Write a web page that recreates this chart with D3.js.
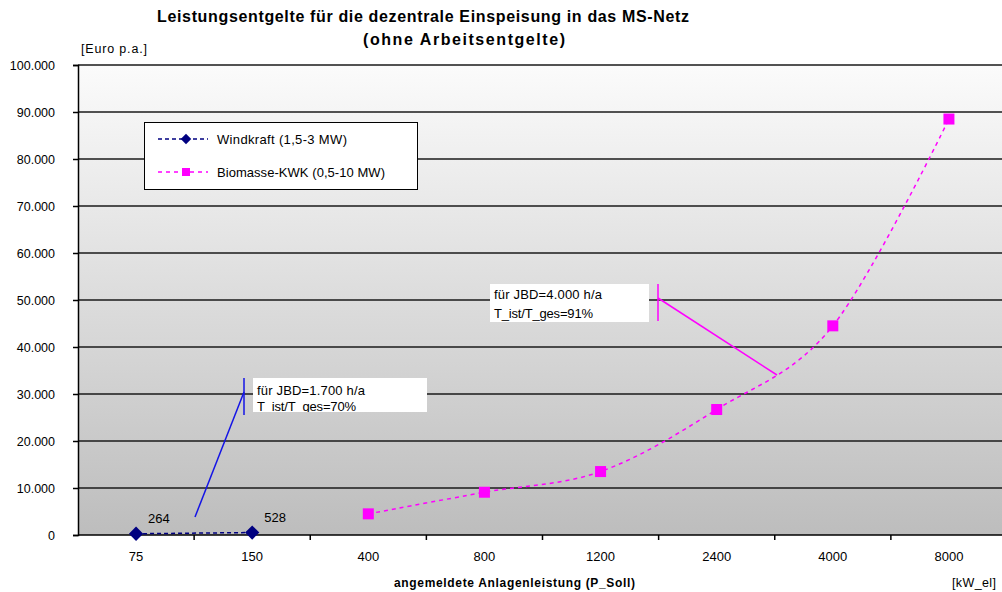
<!DOCTYPE html>
<html>
<head>
<meta charset="utf-8">
<script src="https://cdn.jsdelivr.net/npm/d3@7"></script>
<style>
  html, body { margin: 0; padding: 0; background: #fff; }
  svg { display: block; font-family: "Liberation Sans", Arial, sans-serif; }
</style>
</head>
<body>
<svg id="chart" width="1002" height="592"></svg>
<script>
// Capacity categories (kW_el) on the x axis
const categories = ["75", "150", "400", "800", "1200", "2400", "4000", "8000"];

// Wind power: annual capacity charge (Euro p.a.)
const windCats = ["75", "150"];
const windValues = [264, 528];

// Biomass CHP: annual capacity charge (Euro p.a.)
const bioCats = ["400", "800", "1200", "2400", "4000", "8000"];
const bioValues = [4500, 9100, 13500, 26700, 44500, 88500];

// Y-axis ticks
const yTicks = [0, 10000, 20000, 30000, 40000, 50000, 60000, 70000, 80000, 90000, 100000];

const svg = d3.select("#chart");
const plot = { left: 78, right: 1007, top: 65, bottom: 535 };

const x = d3.scaleBand().domain(categories).range([plot.left, plot.right]).padding(0);
const y = d3.scaleLinear().domain([0, 100000]).range([plot.bottom, plot.top]);
const fmt = v => d3.format(",")(v).replace(/,/g, ".");

// Text helper with an explicit run length
function label(g, o) {
  const t = g.append("text").attr("x", o.x).attr("y", o.y)
    .attr("font-size", o.size || 12).attr("fill", "#000")
    .attr("text-anchor", o.anchor || "start")
    .text(o.text);
  if (o.bold) t.attr("font-weight", "bold");
  if (o.len) t.attr("textLength", o.len).attr("lengthAdjust", "spacing");
  return t;
}

// Plot-area gradient background
const defs = svg.append("defs");
const grad = defs.append("linearGradient").attr("id", "bg").attr("x1", 0).attr("y1", 0).attr("x2", 0).attr("y2", 1);
grad.append("stop").attr("offset", "0%").attr("stop-color", "#fbfbfb");
grad.append("stop").attr("offset", "100%").attr("stop-color", "#bdbdbd");
svg.append("rect")
  .attr("x", plot.left).attr("y", plot.top)
  .attr("width", plot.right - plot.left).attr("height", plot.bottom - plot.top)
  .attr("fill", "url(#bg)");

// Horizontal gridlines
svg.append("g").selectAll("line").data(yTicks.filter(d => d > 0)).join("line")
  .attr("x1", plot.left).attr("x2", plot.right)
  .attr("y1", d => y(d)).attr("y2", d => y(d))
  .attr("stroke", "#1a1a1a").attr("stroke-width", 1.5);

// Y axis
const yAxis = svg.append("g").attr("transform", `translate(${plot.left},0)`)
  .call(d3.axisLeft(y).tickValues(yTicks).tickFormat(fmt).tickSize(5).tickPadding(18));
yAxis.select(".domain").attr("stroke", "#000").attr("stroke-width", 1.5);
yAxis.selectAll(".tick line").attr("stroke", "#000").attr("stroke-width", 1.5);
yAxis.selectAll("text").attr("font-size", 12.5).attr("fill", "#000")
  .attr("font-family", "Liberation Sans, Arial, sans-serif");

// X axis: ticks at category boundaries
const xAxisG = svg.append("g").attr("transform", `translate(0,${plot.bottom})`);
xAxisG.append("line").attr("x1", plot.left).attr("x2", plot.right)
  .attr("stroke", "#000").attr("stroke-width", 1.5);
xAxisG.selectAll(".bt").data(categories.slice(1)).join("line").attr("class", "bt")
  .attr("x1", d => x(d)).attr("x2", d => x(d)).attr("y1", 0).attr("y2", 5)
  .attr("stroke", "#000").attr("stroke-width", 1.5);
xAxisG.selectAll("text").data(categories).join("text")
  .attr("x", d => x(d) + x.bandwidth() / 2).attr("y", 26)
  .attr("text-anchor", "middle").attr("font-size", 13).attr("fill", "#000")
  .text(d => d);

const cx = d => x(d) + x.bandwidth() / 2;

// Annotation leaders (drawn beneath the series)
function annotation(o) {
  const g = svg.append("g");
  g.append("line").attr("x1", o.x0).attr("y1", o.y0).attr("x2", o.x1).attr("y2", o.y1)
    .attr("stroke", o.color).attr("stroke-width", 1.5);
  g.append("line").attr("x1", o.x0).attr("x2", o.x0).attr("y1", o.y0 - 14).attr("y2", o.y0 + 23)
    .attr("stroke", o.color).attr("stroke-width", 1.5);
  const clipId = "clip" + o.id;
  defs.append("clipPath").attr("id", clipId).append("rect")
    .attr("x", o.bx).attr("y", o.by).attr("width", o.bw).attr("height", o.bh);
  g.append("rect").attr("x", o.bx).attr("y", o.by).attr("width", o.bw).attr("height", o.bh).attr("fill", "#fff");
  const t = g.append("g").attr("clip-path", `url(#${clipId})`);
  o.lines.forEach((s, i) => {
    label(t, { x: o.bx + 4, y: o.by + o.base[i], text: s, size: 13, len: o.lens[i] });
  });
}

// Wind annotation (JBD = 1.700 h/a)
annotation({
  id: 1, color: "#1414e6",
  x0: 244, y0: 392, x1: 195, y1: 517,
  bx: 253, by: 378, bw: 174, bh: 34,
  base: [17, 33], lens: [108, 99],
  lines: ["für JBD=1.700 h/a", "T_ist/T_ges=70%"]
});
// Biomass annotation (JBD = 4.000 h/a)
annotation({
  id: 2, color: "#ff00ff",
  x0: 658, y0: 298, x1: 777, y1: 375,
  bx: 490, by: 284, bw: 159, bh: 38,
  base: [15, 34], lens: [108, 99],
  lines: ["für JBD=4.000 h/a", "T_ist/T_ges=91%"]
});

// Wind series
const windData = windCats.map((c, i) => ({ c, v: windValues[i] }));
svg.append("path").datum(windData)
  .attr("d", d3.line().x(d => cx(d.c)).y(d => y(d.v)))
  .attr("fill", "none").attr("stroke", "#000080").attr("stroke-width", 1.5)
  .attr("stroke-dasharray", "4,3");
svg.append("g").selectAll("path").data(windData).join("path")
  .attr("transform", d => `translate(${cx(d.c)},${y(d.v)})`)
  .attr("d", d3.symbol(d3.symbolDiamond2, 130))
  .attr("fill", "#000080");
svg.append("g").selectAll("text").data(windData).join("text")
  .attr("x", d => cx(d.c) + 12).attr("y", d => y(d.v) - 11)
  .attr("font-size", 13).attr("fill", "#000")
  .text(d => d.v);

// Biomass series (smoothed)
const bioData = bioCats.map((c, i) => ({ c, v: bioValues[i] }));
svg.append("path").datum(bioData)
  .attr("d", d3.line().x(d => cx(d.c)).y(d => y(d.v)).curve(d3.curveCatmullRom.alpha(0)))
  .attr("fill", "none").attr("stroke", "#ff00ff").attr("stroke-width", 1.5)
  .attr("stroke-dasharray", "4,4");
svg.append("g").selectAll("rect").data(bioData).join("rect")
  .attr("x", d => cx(d.c) - 5.5).attr("y", d => y(d.v) - 5.5)
  .attr("width", 11).attr("height", 11).attr("fill", "#ff00ff");

// Legend
const lg = svg.append("g");
lg.append("rect").attr("x", 144.5).attr("y", 122.5).attr("width", 273).attr("height", 67)
  .attr("fill", "#fff").attr("stroke", "#000").attr("stroke-width", 1);
const legendItems = [
  { name: "Windkraft (1,5-3 MW)", color: "#000080", type: "diamond", dash: "4,3", len: 130 },
  { name: "Biomasse-KWK (0,5-10 MW)", color: "#ff00ff", type: "square", dash: "4,4", len: 168 }
];
legendItems.forEach((it, i) => {
  const ly = 139 + i * 33;
  lg.append("line").attr("x1", 158).attr("x2", 208).attr("y1", ly).attr("y2", ly)
    .attr("stroke", it.color).attr("stroke-width", 1.5).attr("stroke-dasharray", it.dash);
  if (it.type === "diamond") {
    lg.append("path").attr("transform", `translate(186,${ly})`)
      .attr("d", d3.symbol(d3.symbolDiamond2, 70)).attr("fill", it.color);
  } else {
    lg.append("rect").attr("x", 182).attr("y", ly - 4).attr("width", 8).attr("height", 8).attr("fill", it.color);
  }
  label(lg, { x: 217, y: ly + 5, text: it.name, size: 13, len: it.len });
});

// Titles
label(svg, { x: 157, y: 22, text: "Leistungsentgelte für die dezentrale Einspeisung in das MS-Netz",
  size: 16, bold: true, len: 532 });
label(svg, { x: 363, y: 45, text: "(ohne Arbeitsentgelte)", size: 16, bold: true, len: 202 });

label(svg, { x: 81, y: 53, text: "[Euro p.a.]", size: 12.5, len: 66 });
label(svg, { x: 394, y: 587, text: "angemeldete Anlagenleistung (P_Soll)", size: 12, bold: true, len: 241 });
label(svg, { x: 952, y: 587, text: "[kW_el]", size: 12.5, len: 44 });
</script>
</body>
</html>
